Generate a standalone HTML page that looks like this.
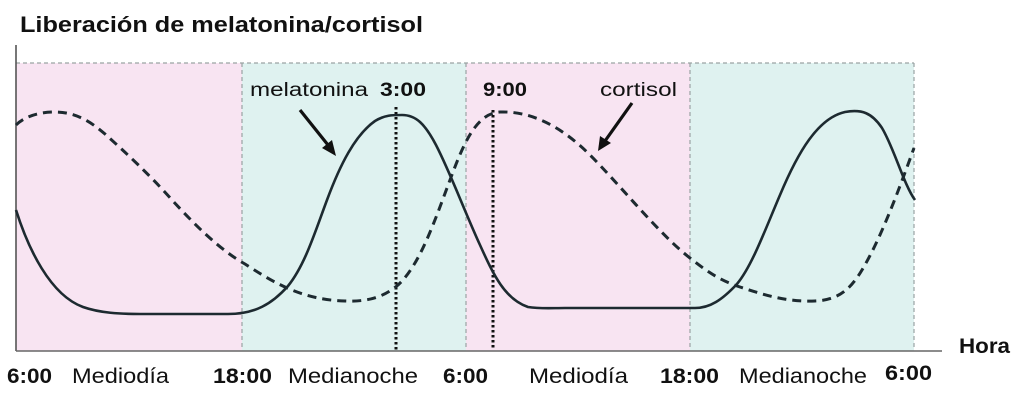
<!DOCTYPE html>
<html><head><meta charset="utf-8"><style>
html,body{margin:0;padding:0;background:#fff;}
svg{display:block;}
text{font-family:"Liberation Sans",sans-serif;fill:#111;}
</style></head><body>
<svg width="1024" height="403" viewBox="0 0 1024 403" xmlns="http://www.w3.org/2000/svg">
<rect x="0" y="0" width="1024" height="403" fill="#fff"/>
<!-- background bands -->
<rect x="16" y="63" width="226" height="288" fill="#f8e4f2"/>
<rect x="242" y="63" width="224" height="288" fill="#dff2f0"/>
<rect x="466" y="63" width="224" height="288" fill="#f8e4f2"/>
<rect x="690" y="63" width="224" height="288" fill="#dff2f0"/>
<!-- dashed grid -->
<g stroke="#9aa3a3" stroke-width="1.2" stroke-dasharray="4 3" fill="none">
<line x1="16" y1="63" x2="914" y2="63"/>
<line x1="242" y1="63" x2="242" y2="350"/>
<line x1="466" y1="63" x2="466" y2="350"/>
<line x1="690" y1="63" x2="690" y2="350"/>
<line x1="914" y1="63" x2="914" y2="350"/>
</g>
<!-- axes -->
<line x1="16" y1="45" x2="16" y2="351" stroke="#555" stroke-width="1.6"/>
<line x1="16" y1="351" x2="942" y2="351" stroke="#666" stroke-width="1.6"/>
<!-- dotted verticals -->
<g stroke="#111" stroke-width="3" stroke-dasharray="2.5 2.5">
<line x1="396" y1="107" x2="396" y2="350"/>
<line x1="493" y1="110" x2="493" y2="350"/>
</g>
<!-- cortisol dashed -->
<path d="M16,125 C25,116 40,112 55,112 C75,112 90,121 105,134 C125,152 150,175 172,200 C195,225 220,250 245,264 C270,280 300,300 345,301 C370,302 385,296 398,285 C420,265 435,220 450,180 C462,148 475,113 500,112 C530,111 560,125 590,155 C620,185 660,235 690,258 C710,274 722,281 740,287 C770,297 790,302 815,301 C838,300 850,290 862,270 C880,240 897,195 914,148" fill="none" stroke="#1d2a30" stroke-width="3" stroke-dasharray="9 6"/>
<!-- melatonin solid -->
<path d="M16,210 C28,248 50,295 83,307 C100,313 120,314 140,314 L228,314 C255,314 272,304 288,286 C305,265 315,232 327,200 C340,165 355,135 375,121 C385,115 392,115 402,115 C416,115 425,124 436,145 C450,172 464,210 480,245 C494,276 505,299 528,307 C540,309 552,308 565,308 L695,308 C710,308 722,300 737,284 C752,266 765,230 780,195 C798,152 818,118 845,112 C862,109 872,113 882,128 C894,148 904,185 915,200" fill="none" stroke="#1d2a30" stroke-width="2.6"/>
<!-- arrows -->
<g stroke="#111" stroke-width="3.2" fill="#111">
<line x1="300" y1="110" x2="328" y2="145"/>
<polygon points="336,156 322,148 332,140" stroke="none"/>
<line x1="632" y1="103" x2="605" y2="141"/>
<polygon points="598,151 600,136 611,143" stroke="none"/>
</g>
<!-- title -->
<text x="20" y="32" font-size="22" font-weight="bold" textLength="403" lengthAdjust="spacingAndGlyphs">Liberación de melatonina/cortisol</text>
<!-- in-chart labels -->
<text x="250" y="96" font-size="19" textLength="118" lengthAdjust="spacingAndGlyphs">melatonina</text>
<text x="380" y="96" font-size="19" font-weight="bold" textLength="46" lengthAdjust="spacingAndGlyphs">3:00</text>
<text x="483" y="96" font-size="19" font-weight="bold" textLength="44" lengthAdjust="spacingAndGlyphs">9:00</text>
<text x="600" y="96" font-size="19" textLength="77" lengthAdjust="spacingAndGlyphs">cortisol</text>
<!-- bottom labels -->
<g font-size="21">
<text x="7" y="383" font-weight="bold" textLength="45" lengthAdjust="spacingAndGlyphs">6:00</text>
<text x="72" y="383" textLength="97" lengthAdjust="spacingAndGlyphs">Mediodía</text>
<text x="213" y="383" font-weight="bold" textLength="59" lengthAdjust="spacingAndGlyphs">18:00</text>
<text x="288" y="383" textLength="130" lengthAdjust="spacingAndGlyphs">Medianoche</text>
<text x="443" y="383" font-weight="bold" textLength="45" lengthAdjust="spacingAndGlyphs">6:00</text>
<text x="529" y="383" textLength="99" lengthAdjust="spacingAndGlyphs">Mediodía</text>
<text x="660" y="383" font-weight="bold" textLength="59" lengthAdjust="spacingAndGlyphs">18:00</text>
<text x="739" y="383" textLength="128" lengthAdjust="spacingAndGlyphs">Medianoche</text>
<text x="885" y="380" font-weight="bold" textLength="47" lengthAdjust="spacingAndGlyphs">6:00</text>
<text x="959" y="353" font-weight="bold" textLength="51" lengthAdjust="spacingAndGlyphs">Hora</text>
</g>
</svg>
</body></html>
